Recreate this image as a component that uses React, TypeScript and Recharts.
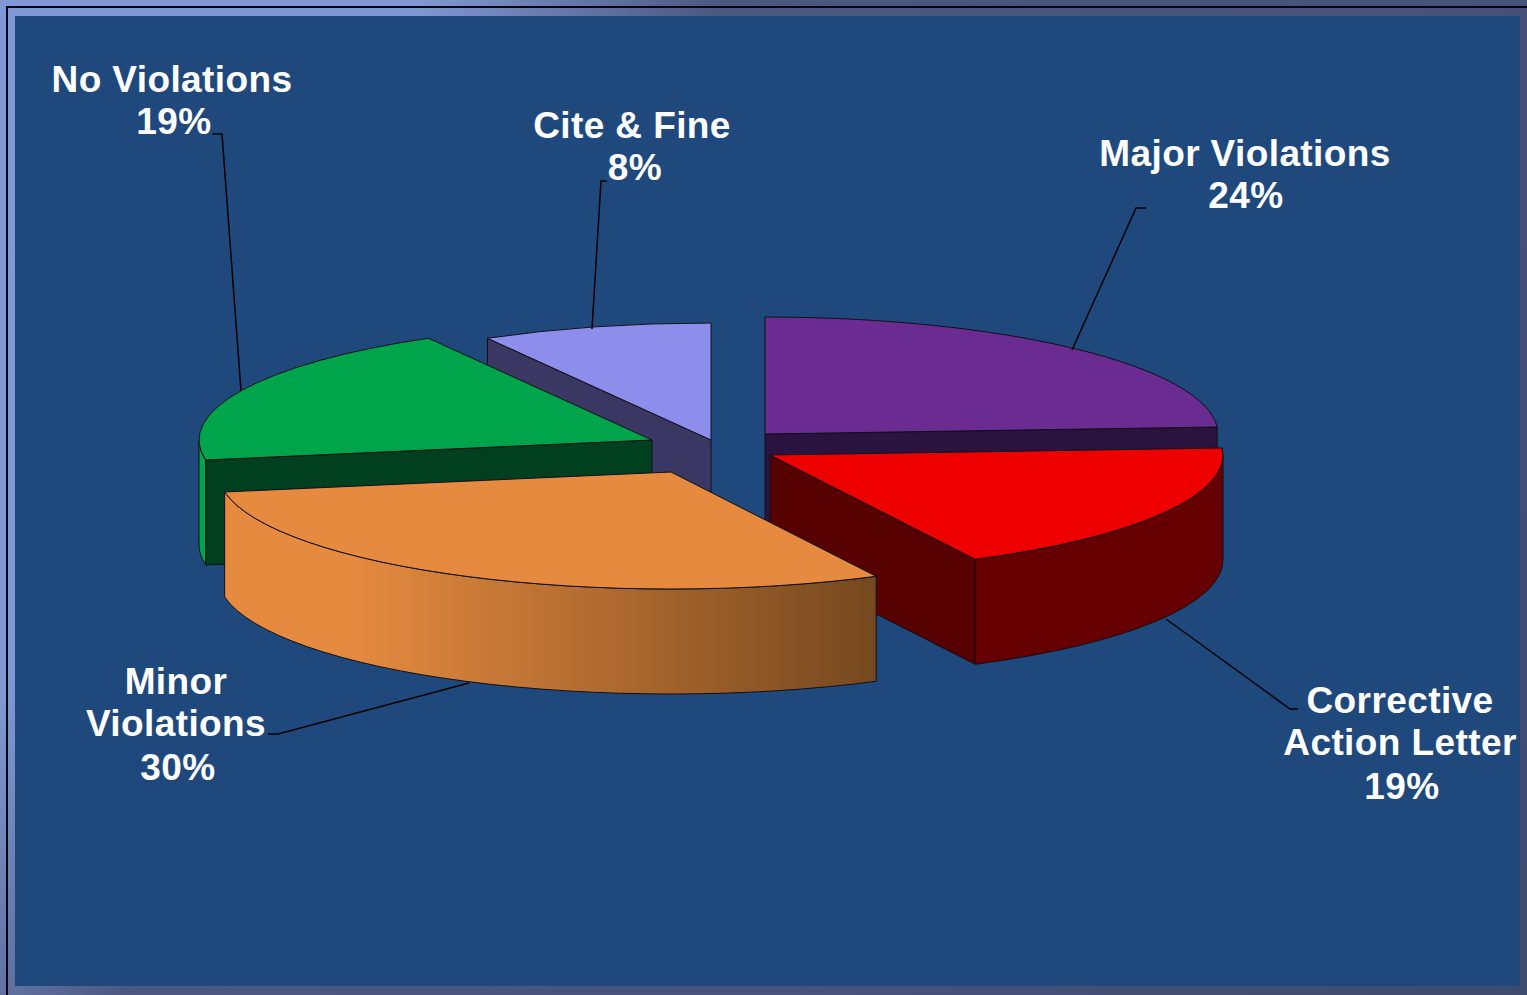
import React from "react";
import { Pie, PieChart } from "recharts";

// Share of inspection outcomes, in percent.
const categories = ["Major Violations", "Corrective Action Letter", "Minor Violations", "No Violations", "Cite & Fine"];
const shares = [24, 19, 30, 19, 8];

const rows = categories.map((name, i) => ({ name, value: shares[i] }));

// The pie is drawn in two runs from 12 o'clock so nearer slices paint over farther ones.
const clockwiseRun = rows.slice(0, 2);
const counterRun = rows.slice(2).reverse();
const sweep = (run: { value: number }[]) => (run.reduce((s, r) => s + r.value, 0) / 100) * 360;

const WIDTH = 1527;
const HEIGHT = 995;
const CX = 720;
const CY = 450;
const RADIUS = 453;
const TILT = 117 / 453;
const DEPTH = 105;

// How far each slice is pulled away from the pie centre, on screen.
const pull: Record<string, [number, number]> = {
  "Major Violations": [45, -16],
  "Corrective Action Letter": [50, 5],
  "Minor Violations": [-49, 22],
  "No Violations": [-68, -10],
  "Cite & Fine": [-9, -10],
};

const skins: Record<string, { top: string; cut: string; wall: string }> = {
  "Major Violations": { top: "#6B2C91", cut: "#2B1340", wall: "#2B1340" },
  "Corrective Action Letter": { top: "#EE0000", cut: "#560000", wall: "#660000" },
  "Minor Violations": { top: "#E58A3F", cut: "#75481F", wall: "url(#minorWall)" },
  "No Violations": { top: "#00A44A", cut: "#00401E", wall: "#00A44A" },
  "Cite & Fine": { top: "#8D8DEC", cut: "#3B3763", wall: "#3B3763" },
};

// Baselines and centres of the wrapped caption rows, plus the leader line of each caption.
const captions: Record<string, { rows: [string, number, number][]; leader: string }> = {
  "Major Violations": {
    rows: [["Major Violations", 1245, 166], ["24%", 1246, 208]],
    leader: "1146,208 1136,208 1072,350",
  },
  "Corrective Action Letter": {
    rows: [["Corrective", 1400, 713], ["Action Letter", 1400, 755], ["19%", 1402, 799]],
    leader: "1166,619 1290,709 1298,709",
  },
  "Minor Violations": {
    rows: [["Minor", 176, 694], ["Violations", 176, 736], ["30%", 178, 780]],
    leader: "469,683 278,734 268,734",
  },
  "No Violations": {
    rows: [["No Violations", 172, 92], ["19%", 174, 134]],
    leader: "212,134 222,134 241,391",
  },
  "Cite & Fine": {
    rows: [["Cite & Fine", 632, 138], ["8%", 635, 180]],
    leader: "607,181 601,181 592,329",
  },
};

const OUTLINE = "#101018";

// The tilted camera skews bearings a little: 12 o'clock stays put, the rest drift by a few degrees.
function viewBearing(deg: number) {
  const phi = ((deg - 90) * Math.PI) / 180;
  return deg + 1.3 * Math.sin(phi) + 1.2 * (1 - Math.cos(phi));
}

function SolidSlice(props: any) {
  const { name, cx, cy, outerRadius, startAngle, endAngle } = props;
  const skin = skins[name];
  const [dx, dy] = pull[name];
  const ox = cx + dx;
  const oy = cy + dy;
  const rx = outerRadius;
  const ry = outerRadius * TILT;

  const rawLo = ((Math.min(startAngle, endAngle) % 360) + 360) % 360;
  const rawHi = rawLo + Math.abs(endAngle - startAngle);
  const lo = viewBearing(rawLo);
  const hi = viewBearing(rawHi);
  const at = (deg: number): [number, number] => {
    const t = (deg * Math.PI) / 180;
    return [ox + rx * Math.cos(t), oy - ry * Math.sin(t)];
  };
  const [ax, ay] = at(lo);
  const [bx, by] = at(hi);
  const big = hi - lo > 180 ? 1 : 0;

  const faces: React.ReactNode[] = [];
  const cutFace = (px: number, py: number, key: string) => (
    <path
      key={key}
      d={`M${ox},${oy} L${px},${py} L${px},${py + DEPTH} L${ox},${oy + DEPTH} Z`}
      fill={skin.cut}
      stroke={OUTLINE}
      strokeWidth={1}
    />
  );
  // A cut face shows only when its outward normal leans towards the viewer.
  if (Math.sin(((lo - 90) * Math.PI) / 180) < -1e-6) faces.push(cutFace(ax, ay, "lo"));
  if (Math.sin(((hi + 90) * Math.PI) / 180) < -1e-6) faces.push(cutFace(bx, by, "hi"));

  // The rim is visible over the front half of the ellipse only.
  const from = Math.max(lo, 180);
  const to = Math.min(hi, 360);
  if (to > from) {
    const [fx, fy] = at(from);
    const [tx, ty] = at(to);
    faces.push(
      <path
        key="rim"
        d={`M${fx},${fy} A${rx},${ry} 0 0 0 ${tx},${ty} L${tx},${ty + DEPTH} A${rx},${ry} 0 0 1 ${fx},${fy + DEPTH} Z`}
        fill={skin.wall}
        stroke={OUTLINE}
        strokeWidth={1}
      />
    );
  }

  return (
    <g>
      <defs>
        <linearGradient id="minorWall" x1="0" y1="0" x2="1" y2="0">
          <stop offset="0%" stopColor="#E58A3F" />
          <stop offset="20%" stopColor="#E58A3F" />
          <stop offset="100%" stopColor="#75481F" />
        </linearGradient>
      </defs>
      {faces}
      <path
        d={`M${ox},${oy} L${ax},${ay} A${rx},${ry} 0 ${big} 0 ${bx},${by} Z`}
        fill={skin.top}
        stroke={OUTLINE}
        strokeWidth={1}
      />
    </g>
  );
}

function Caption(props: any) {
  const cap = captions[props.name];
  return (
    <g>
      <polyline points={cap.leader} fill="none" stroke="#000" strokeWidth={1.5} />
      {cap.rows.map(([text, x, y]) => (
        <text
          key={text}
          x={x}
          y={y}
          textAnchor="middle"
          fill="#FFFFFF"
          fontFamily="'Liberation Sans', Arial, sans-serif"
          fontWeight={700}
          fontSize={37}
          letterSpacing={0.4}
        >
          {text}
        </text>
      ))}
    </g>
  );
}

const drawSlice = (props: any) => <SolidSlice {...props} />;
const drawCaption = (props: any) => <Caption {...props} />;

export default function App() {
  return (
    <div
      style={{
        position: "absolute",
        left: 0,
        top: 0,
        width: WIDTH,
        height: HEIGHT,
        overflow: "hidden",
        background: "linear-gradient(121deg, #8099D6 0%, #7F97D2 20%, #4C5880 34%, #47517A 70%, #3E4A6E 100%)",
      }}
    >
      <div style={{ position: "absolute", left: 6, top: 6, right: 0, height: 2, background: "#05050F" }} />
      <div style={{ position: "absolute", left: 6, top: 6, bottom: 0, width: 2, background: "#05050F" }} />
      <div style={{ position: "absolute", left: 15, top: 16, width: 1505, height: 970, background: "#1F497D" }} />
      <PieChart
        width={WIDTH}
        height={HEIGHT}
        margin={{ top: 0, right: 0, bottom: 0, left: 0 }}
        style={{ position: "absolute", left: 0, top: 0 }}
      >
        <Pie
          data={clockwiseRun}
          dataKey="value"
          nameKey="name"
          cx={CX}
          cy={CY}
          innerRadius={0}
          outerRadius={RADIUS}
          startAngle={90}
          endAngle={90 - sweep(clockwiseRun)}
          paddingAngle={0}
          stroke="none"
          shape={drawSlice}
          inactiveShape={drawSlice}
          label={drawCaption}
          labelLine={false}
          isAnimationActive={false}
        />
        <Pie
          data={counterRun}
          dataKey="value"
          nameKey="name"
          cx={CX}
          cy={CY}
          innerRadius={0}
          outerRadius={RADIUS}
          startAngle={90}
          endAngle={90 + sweep(counterRun)}
          paddingAngle={0}
          stroke="none"
          shape={drawSlice}
          inactiveShape={drawSlice}
          label={drawCaption}
          labelLine={false}
          isAnimationActive={false}
        />
      </PieChart>
    </div>
  );
}
